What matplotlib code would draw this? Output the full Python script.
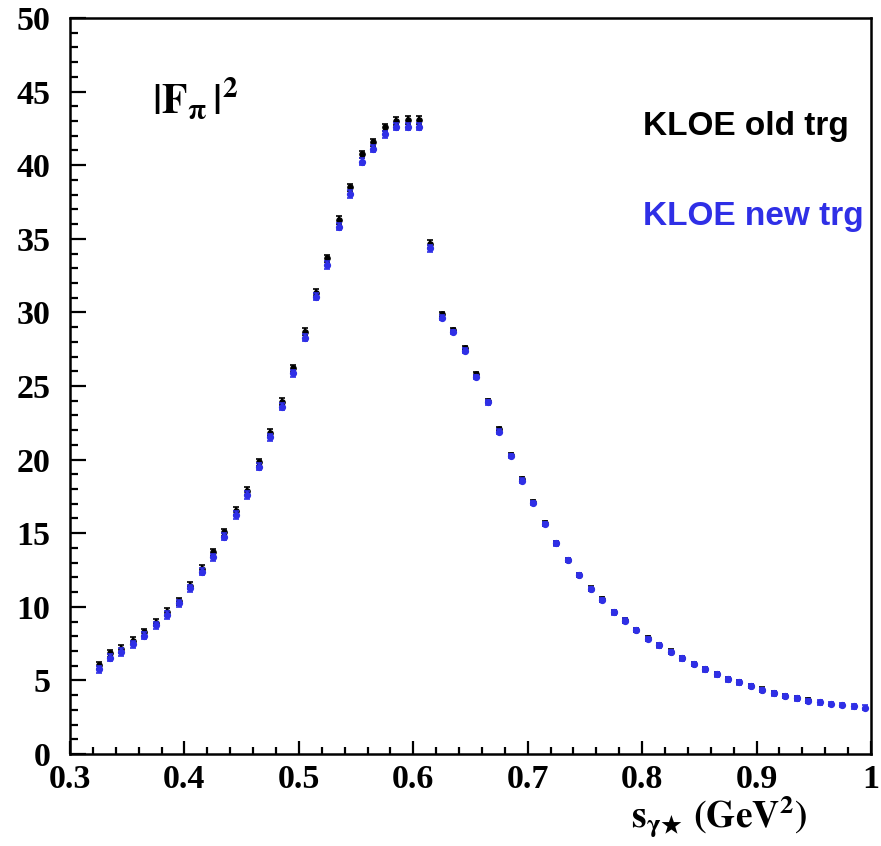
import matplotlib
matplotlib.use("Agg")
import matplotlib.pyplot as plt
from matplotlib.ticker import MultipleLocator, FixedLocator, FixedFormatter

# ---- data ----
s_new = [0.325, 0.335, 0.345, 0.355, 0.365, 0.375, 0.385, 0.395, 0.405, 0.415,
         0.425, 0.435, 0.445, 0.455, 0.465, 0.475, 0.485, 0.495, 0.505, 0.515,
         0.525, 0.535, 0.545, 0.555, 0.565, 0.575, 0.585, 0.595, 0.605, 0.615,
         0.625, 0.635, 0.645, 0.655, 0.665, 0.675, 0.685, 0.695, 0.705, 0.715,
         0.725, 0.735, 0.745, 0.755, 0.765, 0.775, 0.785, 0.795, 0.805, 0.815,
         0.825, 0.835, 0.845, 0.855, 0.865, 0.875, 0.885, 0.895, 0.905, 0.915,
         0.925, 0.935, 0.945, 0.955, 0.965, 0.975, 0.985, 0.995]
f2_new = [5.75, 6.54, 6.93, 7.45, 8.04, 8.74, 9.44, 10.24, 11.26, 12.39,
          13.36, 14.76, 16.24, 17.60, 19.52, 21.51, 23.60, 25.86, 28.28, 31.07,
          33.22, 35.82, 38.04, 40.24, 41.12, 42.10, 42.62, 42.62, 42.62, 34.35,
          29.64, 28.65, 27.40, 25.63, 23.89, 21.90, 20.24, 18.57, 17.07, 15.63,
          14.31, 13.16, 12.16, 11.21, 10.48, 9.62, 9.06, 8.42, 7.83, 7.38,
          6.93, 6.50, 6.11, 5.75, 5.41, 5.07, 4.87, 4.60, 4.35, 4.12,
          3.94, 3.78, 3.62, 3.51, 3.40, 3.31, 3.24, 3.15]
err_new = [0.25] * 30 + [0.15] * 38

s_old = [0.325, 0.335, 0.345, 0.355, 0.365, 0.375, 0.385, 0.395, 0.405, 0.415,
         0.425, 0.435, 0.445, 0.455, 0.465, 0.475, 0.485, 0.495, 0.505, 0.515,
         0.525, 0.535, 0.545, 0.555, 0.565, 0.575, 0.585, 0.595, 0.605, 0.615,
         0.625, 0.635, 0.645, 0.655, 0.665, 0.675, 0.685, 0.695, 0.705, 0.715,
         0.725, 0.735, 0.745, 0.755, 0.765, 0.775, 0.785, 0.795, 0.805, 0.815,
         0.825, 0.835, 0.845, 0.855, 0.865, 0.875, 0.885, 0.895, 0.905, 0.915,
         0.925, 0.935, 0.945]
f2_old = [6.02, 6.84, 7.13, 7.70, 8.27, 8.92, 9.65, 10.37, 11.43, 12.57,
          13.70, 15.06, 16.51, 17.87, 19.81, 21.83, 23.93, 26.20, 28.69, 31.34,
          33.67, 36.28, 38.50, 40.74, 41.55, 42.57, 43.00, 43.07, 43.07, 34.65,
          29.87, 28.80, 27.60, 25.81, 24.00, 22.06, 20.30, 18.68, 17.10, 15.66,
          14.33, 13.18, 12.18, 11.23, 10.50, 9.64, 9.08, 8.44, 7.85, 7.40,
          6.95, 6.52, 6.13, 5.77, 5.43, 5.09, 4.89, 4.62, 4.37, 4.14,
          3.96, 3.80, 3.64]
err_old = [0.25] * 30 + [0.15] * 33

x_ticks = [0.3, 0.4, 0.5, 0.6, 0.7, 0.8, 0.9, 1.0]
x_ticklabels = ["0.3", "0.4", "0.5", "0.6", "0.7", "0.8", "0.9", "1"]
y_ticks = [0, 5, 10, 15, 20, 25, 30, 35, 40, 45, 50]
y_ticklabels = [str(v) for v in y_ticks]

BLUE = "#2f2fe6"
SERIF = ["Liberation Serif", "DejaVu Serif"]
SANS = ["Liberation Sans", "DejaVu Sans"]

fig = plt.figure(figsize=(8.81, 8.46), dpi=100)
ax = fig.add_axes([70 / 881, 1 - 754 / 846, (871 - 70) / 881, (754 - 18) / 846])

ax.errorbar(s_old, f2_old, yerr=err_old, fmt="o", color="black", ms=3.8,
            elinewidth=1.6, capsize=2.0, capthick=1.2, zorder=3)
ax.errorbar(s_new, f2_new, yerr=err_new, fmt="o", color=BLUE, ms=4.2,
            elinewidth=1.6, capsize=2.0, capthick=1.2, zorder=4)

ax.set_xlim(0.3, 1.0)
ax.set_ylim(0, 50)

ax.xaxis.set_major_locator(FixedLocator(x_ticks))
ax.xaxis.set_major_formatter(FixedFormatter(x_ticklabels))
ax.xaxis.set_minor_locator(MultipleLocator(0.02))
ax.yaxis.set_major_locator(FixedLocator(y_ticks))
ax.yaxis.set_major_formatter(FixedFormatter(y_ticklabels))
ax.yaxis.set_minor_locator(MultipleLocator(1))

for sp in ax.spines.values():
    sp.set_linewidth(1.8)

ax.tick_params(axis="both", which="both", direction="in", top=False, right=False,
               width=1.6)
ax.tick_params(axis="y", which="major", length=11.5, pad=14)
ax.tick_params(axis="y", which="minor", length=6)
ax.tick_params(axis="x", which="major", length=9.5, pad=7)
ax.tick_params(axis="x", which="minor", length=5)

for lab in ax.get_xticklabels() + ax.get_yticklabels():
    lab.set_fontfamily(SERIF)
    lab.set_fontweight("bold")
    lab.set_fontsize(24.5)

# y title inside the frame
fig.text(152 / 881, 1 - 113 / 846, r"$\mathbf{|F_{\pi}\,|^2}$", fontsize=30,
         ha="left", va="baseline", math_fontfamily="stix")

# x title
fig.text(807 / 881, 1 - 828 / 846,
         r"$\mathbf{s}_{\mathbf{\gamma}\bigstar}\ \mathbf{(GeV}^{\mathbf{2}}\mathbf{)}$",
         fontsize=27, ha="right", va="baseline", math_fontfamily="stix")

# legend texts
fig.text(643 / 881, 1 - 135 / 846, "KLOE old trg", fontsize=24, fontweight="bold",
         family=SANS, color="black", ha="left", va="baseline")
fig.text(643 / 881, 1 - 225 / 846, "KLOE new trg", fontsize=24, fontweight="bold",
         family=SANS, color=BLUE, ha="left", va="baseline")

fig.savefig("out.png", dpi=100)
